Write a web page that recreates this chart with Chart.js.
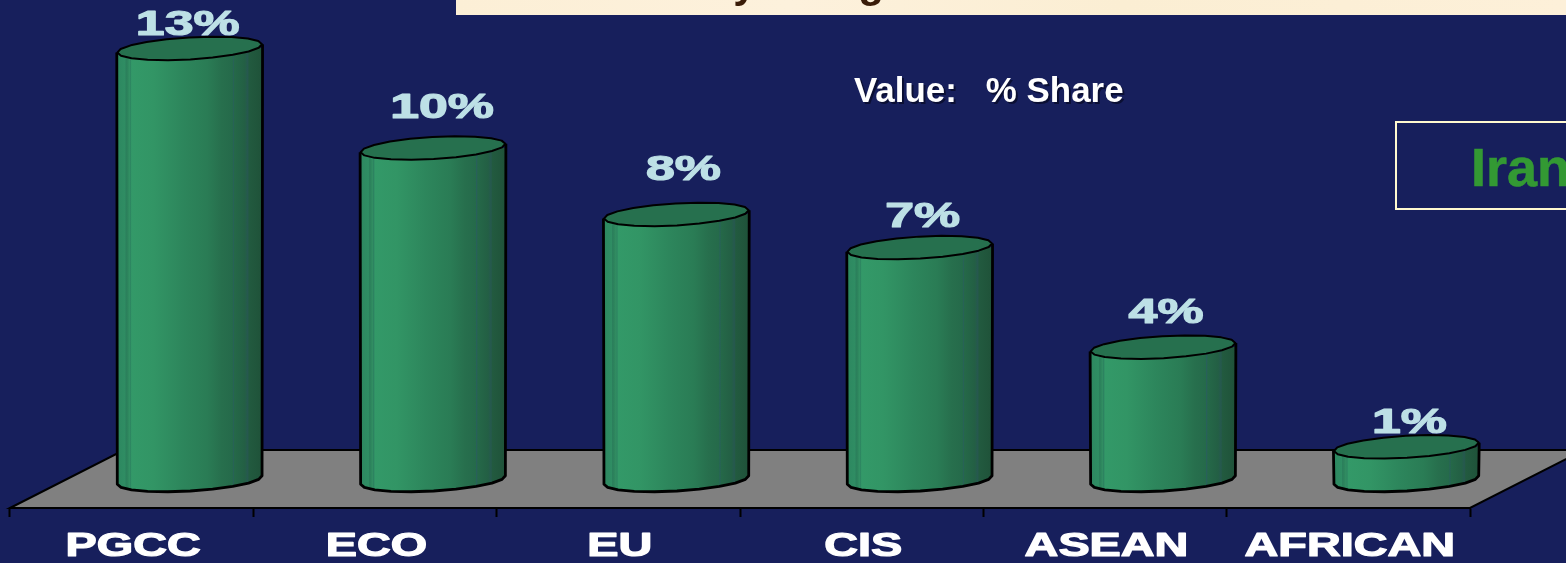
<!DOCTYPE html>
<html>
<head>
<meta charset="utf-8">
<style>
html,body{margin:0;padding:0;background:#171f5c;overflow:hidden}
#wrap{position:relative;width:1566px;height:563px}
canvas{display:block}
</style>
<script src="https://cdn.jsdelivr.net/npm/chart.js@4"></script>
</head>
<body>
<div id="wrap"><canvas id="c" width="1566" height="563"></canvas></div>
<script>
const categories = ['PGCC', 'ECO', 'EU', 'CIS', 'ASEAN', 'AFRICAN'];
const shareValues = [13, 10, 8, 7, 4, 1];
const valueCaption = 'Value:   % Share';
const sideCaption = 'Iran';
const titleFragments = ['y', 'g'];
// hand-placed nudges of the value labels, [dx, dy from the cylinder top]
const labelNudgeX = [-2, 9, 7, 3, 3, 3];
const labelNudgeY = [-13, -30, -34, -21, -24, -14];

const BG = '#171f5c';
const FLOOR = '#808080';
const LABEL = '#bde0e6';
const TOP_FILL = '#26704e';
const DEPTH_X = 58;      // half of the floor's depth, horizontally
const RX = 72.5, RY = 11, TILT = -0.058;

function sideGradient(ctx, cx) {
  const g = ctx.createLinearGradient(cx - RX, 0, cx + RX, 0);
  const stops = [[0,'#2d8760'],[0.055,'#2f8d63'],[0.06,'#2b7f5c'],[0.07,'#2c835c'],[0.085,'#328f63'],[0.09,'#2c8260'],[0.1,'#339968'],[0.25,'#329565'],
    [0.45,'#2d865c'],[0.62,'#2a7c55'],[0.72,'#276f4d'],[0.795,'#256a4a'],[0.8,'#28605a'],[0.81,'#256848'],
    [0.88,'#235f44'],[0.9,'#26584f'],[0.91,'#225a3f'],[1,'#1f5239']];
  stops.forEach(s => g.addColorStop(s[0], s[1]));
  return g;
}
function ringPoint(cx, cy, t) {
  const x = RX * Math.cos(t), y = RY * Math.sin(t);
  return [cx + x * Math.cos(TILT) - y * Math.sin(TILT), cy + x * Math.sin(TILT) + y * Math.cos(TILT)];
}
function ringPath(ctx, cx, cy, from, to, steps, start) {
  for (let k = 0; k <= steps; k++) {
    const p = ringPoint(cx, cy, from + (to - from) * k / steps);
    if (k === 0 && start) ctx.moveTo(p[0], p[1]); else ctx.lineTo(p[0], p[1]);
  }
}
function centres(chart) {
  const x = chart.scales.x, y = chart.scales.y;
  return categories.map((_, i) => ({
    cx: x.getPixelForValue(i) + DEPTH_X,
    top: y.getPixelForValue(shareValues[i]),
    base: y.getPixelForValue(0)
  }));
}
function stretchedText(ctx, text, cx, baseline, size, sx, colour, weight) {
  ctx.save();
  ctx.font = 'bold ' + size + 'px "Liberation Sans", Arial, sans-serif';
  ctx.fillStyle = colour;
  ctx.strokeStyle = colour;
  ctx.lineWidth = weight;
  ctx.lineJoin = 'round';
  ctx.textAlign = 'center';
  ctx.textBaseline = 'alphabetic';
  ctx.translate(cx, baseline);
  ctx.scale(sx, 1);
  ctx.strokeText(text, 0, 0);
  ctx.fillText(text, 0, 0);
  ctx.restore();
}

const scene = {
  id: 'scene',
  beforeDraw(chart) {
    const ctx = chart.ctx, a = chart.chartArea;
    ctx.save();
    ctx.fillStyle = BG;
    ctx.fillRect(0, 0, chart.width, chart.height);
    // floor
    const dy = 58, dx = 114;
    const floorBack = a.bottom - dy;
    ctx.beginPath();
    ctx.moveTo(a.left, a.bottom);
    ctx.lineTo(a.left + dx, floorBack);
    ctx.lineTo(a.right + dx, floorBack);
    ctx.lineTo(a.right, a.bottom);
    ctx.closePath();
    ctx.fillStyle = FLOOR;
    ctx.fill();
    ctx.strokeStyle = '#000';
    ctx.lineWidth = 2;
    ctx.stroke();
    // title panel
    const panel = ctx.createLinearGradient(456, 0, 1566, 15);
    panel.addColorStop(0, '#fcefd6');
    panel.addColorStop(0.3, '#fdf1dc');
    panel.addColorStop(0.6, '#fbeed3');
    panel.addColorStop(1, '#fdf0d9');
    ctx.fillStyle = panel;
    ctx.fillRect(456, 0, 1110, 15);
    ctx.beginPath();
    ctx.rect(456, 0, 1110, 15);
    ctx.clip();
    ctx.font = 'bold 42px "Liberation Sans", Arial, sans-serif';
    ctx.fillStyle = '#3a1c08';
    ctx.textAlign = 'center';
    ctx.textBaseline = 'alphabetic';
    ctx.fillText(titleFragments[0], 745, -3);
    ctx.fillText(titleFragments[1], 871, -3);
    ctx.restore();
    // caption and side box
    ctx.save();
    ctx.font = 'bold 34.9px "Liberation Sans", Arial, sans-serif';
    ctx.textBaseline = 'alphabetic';
    ctx.fillStyle = '#0b0f33';
    ctx.fillText(valueCaption, 856, 104);
    ctx.fillStyle = '#fff';
    ctx.fillText(valueCaption, 854, 102);
    ctx.strokeStyle = '#fff9cf';
    ctx.lineWidth = 2;
    ctx.strokeRect(1396, 122, 200, 87);
    ctx.font = 'bold 54px "Liberation Sans", Arial, sans-serif';
    ctx.fillStyle = '#339933';
    ctx.strokeStyle = '#339933';
    ctx.lineWidth = 0.6;
    ctx.strokeText(sideCaption, 1471, 186);
    ctx.fillText(sideCaption, 1471, 186);
    ctx.restore();
    // category labels
    const xs = chart.scales.x;
    categories.forEach((c, i) => {
      stretchedText(ctx, xs.getLabelForValue(i), xs.getPixelForValue(i) + 1.5, 555.5, 32.5, 1.44, '#fff', 1.2);
    });
    // value labels
    centres(chart).forEach((m, i) => {
      stretchedText(ctx, shareValues[i] + '%', m.cx + labelNudgeX[i], m.top + labelNudgeY[i], 35, 1.48, LABEL, 1.2);
    });
  },
  beforeDatasetDraw(chart) {
    const ctx = chart.ctx;
    ctx.save();
    // the library's bars are shifted onto the floor and cut to a round bottom
    ctx.beginPath();
    centres(chart).forEach(m => {
      const l = ringPoint(m.cx, m.top, Math.PI);
      const r = ringPoint(m.cx, m.top, 0);
      ctx.moveTo(l[0], l[1]);
      ringPath(ctx, m.cx, m.base, Math.PI, 0, 10, false);
      ctx.lineTo(r[0], r[1]);
      ctx.closePath();
    });
    ctx.clip();
    ctx.translate(DEPTH_X, 0);
  },
  afterDatasetDraw(chart) {
    const ctx = chart.ctx;
    ctx.restore();
    ctx.save();
    ctx.lineJoin = 'round';
    centres(chart).forEach(m => {
      const l = ringPoint(m.cx, m.top, Math.PI);
      const r = ringPoint(m.cx, m.top, 0);
      // outline of the sides
      ctx.beginPath();
      ctx.moveTo(l[0] - 0.5, l[1]);
      ringPath(ctx, m.cx, m.base, Math.PI, 0, 10, false);
      ctx.lineTo(r[0] + 0.5, r[1]);
      ctx.strokeStyle = '#000';
      ctx.lineWidth = 2.8;
      ctx.stroke();
      // top cap
      ctx.beginPath();
      ringPath(ctx, m.cx, m.top, 0, Math.PI * 2, 20, true);
      ctx.closePath();
      ctx.fillStyle = TOP_FILL;
      ctx.fill();
      ctx.lineWidth = 2;
      ctx.stroke();
    });
    ctx.restore();
  }
};

new Chart(document.getElementById('c'), {
  type: 'bar',
  data: {
    labels: categories,
    datasets: [{
      label: '% Share',
      data: shareValues,
      base: -0.4,
      barThickness: 146,
      borderWidth: 0,
      clip: false,
      backgroundColor(c) {
        const s = c.chart.scales.x;
        const px = (s && c.dataIndex !== undefined) ? s.getPixelForValue(c.dataIndex) : NaN;
        if (!Number.isFinite(px)) return '#2d865c';
        return sideGradient(c.chart.ctx, px);
      }
    }]
  },
  options: {
    responsive: false,
    animation: false,
    layout: { padding: { left: 10, right: 96, top: 0, bottom: 0 } },
    plugins: { legend: { display: false }, tooltip: { enabled: false }, title: { display: false } },
    scales: {
      x: {
        type: 'category',
        afterFit(s) { s.height = 55; },
        grid: { drawOnChartArea: false, drawTicks: true, tickLength: 9, color: '#000', tickWidth: 2, offset: true },
        border: { display: true, color: '#000', width: 2 },
        ticks: { display: false }
      },
      y: {
        display: false,
        min: -0.843,
        max: 14.458
      }
    }
  },
  plugins: [scene]
});
</script>
</body>
</html>
